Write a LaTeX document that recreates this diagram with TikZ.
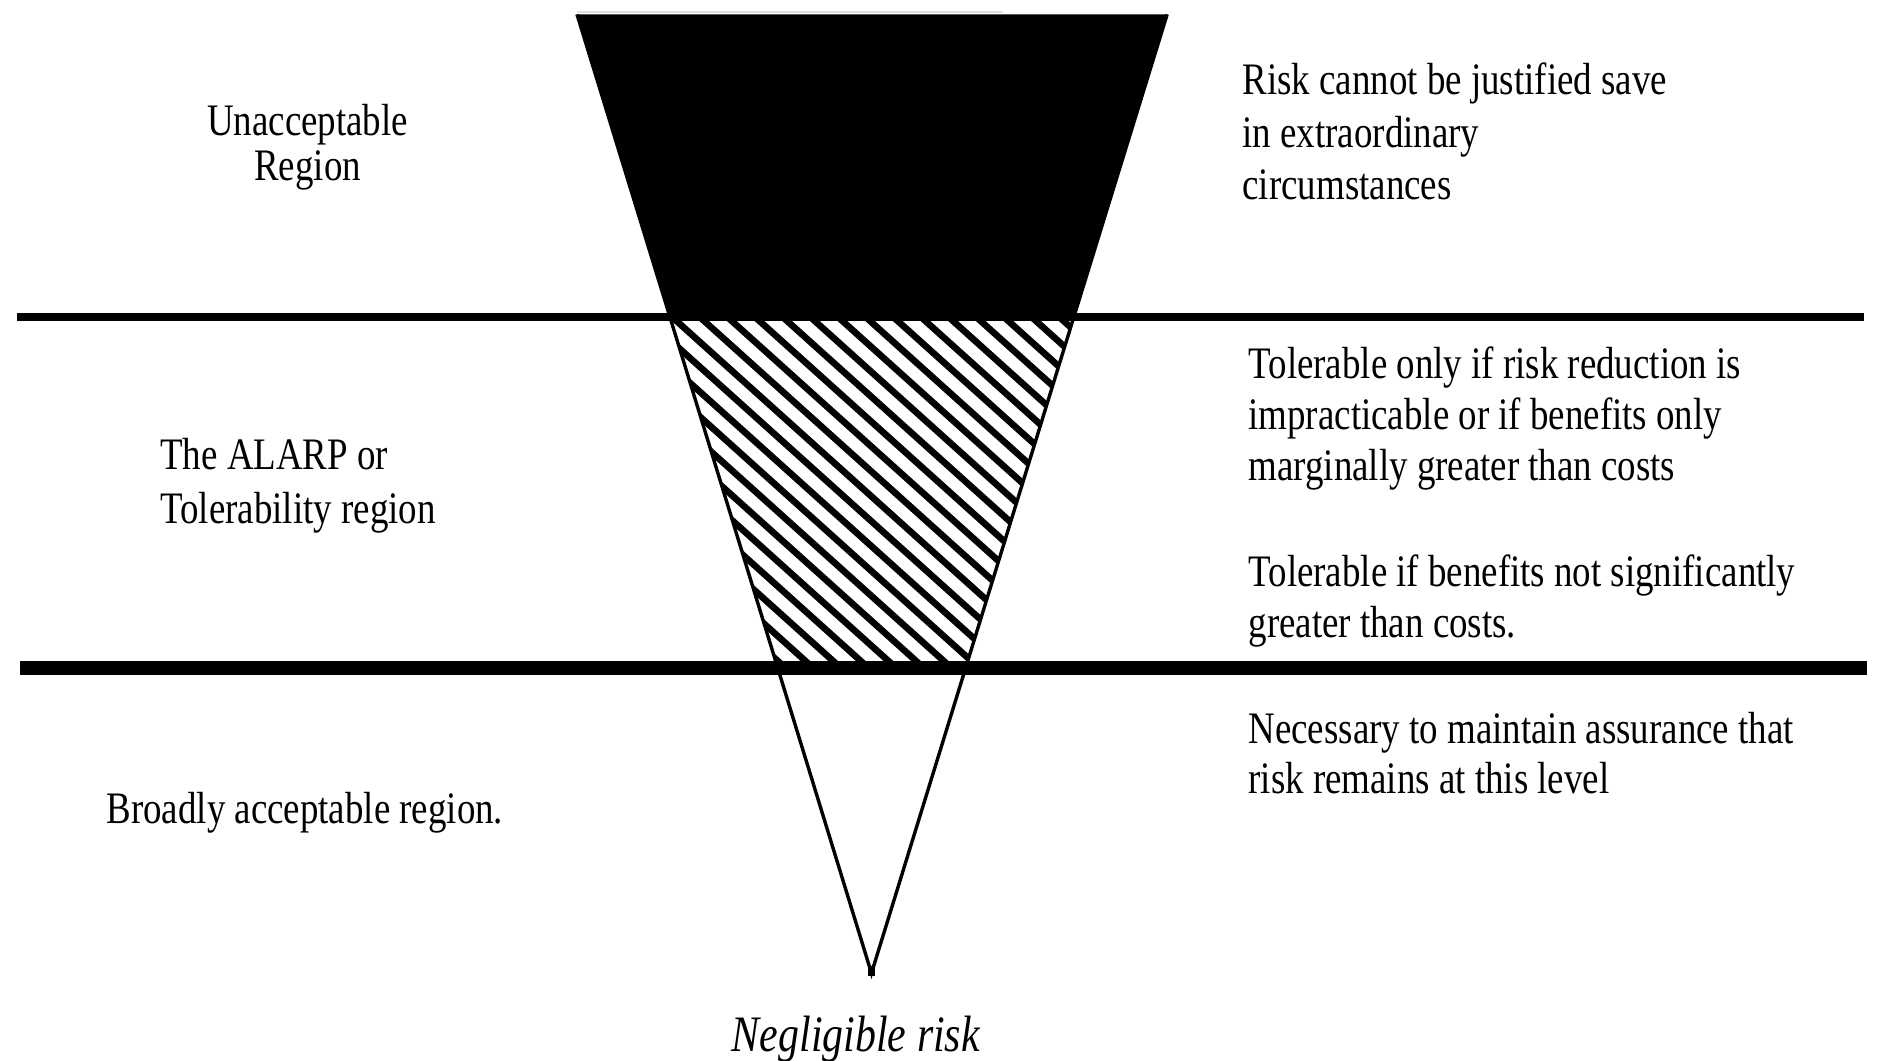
\documentclass[tikz,border=0pt]{standalone}
\usepackage{fontspec}
\setmainfont{Liberation Serif}
\usepackage{graphicx}
\newcommand{\blk}[3]{\scalebox{1}[1.22]{\fontsize{18.5}{#2}\selectfont\begin{tabular}[t]{@{}#1@{}}#3\end{tabular}}}
\begin{document}
\begin{tikzpicture}[x=0.6pt,y=-0.6pt,
  lbl/.style={inner sep=0pt,outer sep=0pt,anchor=base west},
  lblc/.style={inner sep=0pt,outer sep=0pt,anchor=base},
  band/.style={line width=#1,line cap=butt},
  edge/.style={line width=1.7pt,line join=miter},
  hatchline/.style={line width=3.3pt}]
\useasboundingbox (0,0) rectangle (1568,886);
% key points of the funnel
\coordinate (tl) at (482,12);
\coordinate (tr) at (975,12);
\coordinate (apex) at (728,813);
\coordinate (b1l) at (560,265);
\coordinate (b1r) at (897,265);
\coordinate (b2l) at (649,558);
\coordinate (b2r) at (806,558);
% faint top line
\draw[gray!25,line width=1pt] (482,10) -- (838,10);
% black unacceptable part
\fill[black] (tl) -- (tr) -- (b1r) -- (b1l) -- cycle;
% hatched tolerable part
\begin{scope}
  \clip (b1l) -- (b1r) -- (b2r) -- (b2l) -- cycle;
  \foreach \k in {-30,...,30} {
    \draw[hatchline] ({565+\k*23.1-400},{268-360}) -- ({565+\k*23.1+400},{268+360});
  }
\end{scope}
% funnel outline
\draw[edge] (tl) -- (apex) -- (tr);
\fill (apex) ++(-3,-6) rectangle ++(6,8);
% horizontal bands
\draw[band=4.2pt] (14,265) -- (1557,265);
\draw[band=7.2pt] (17,558) -- (1560,558);
% texts
\node[lblc] (unacc) at (257,113) {\blk{c}{18.7pt}{Unacceptable\\Region}};
\node[lbl] (riskjust) at (1038,79) {\blk{l}{21.6pt}{Risk cannot be justified save\\in extraordinary\\circumstances}};
\node[lbl] (alarp) at (134,392) {\blk{l}{22.1pt}{The ALARP or\\Tolerability region}};
\node[lbl] (tolonly) at (1043,316) {\blk{l}{21.1pt}{Tolerable only if risk reduction is\\impracticable or if benefits only\\marginally greater than costs}};
\node[lbl] (tolif) at (1043,490) {\blk{l}{21.1pt}{Tolerable if benefits not significantly\\greater than costs.}};
\node[lbl] (necess) at (1043,621) {\blk{l}{20.7pt}{Necessary to maintain assurance that\\risk remains at this level}};
\node[lbl] (broad) at (89,688) {\blk{l}{21pt}{Broadly acceptable region.}};
\node[lblc] (neglig) at (715,878) {\scalebox{1}[1.22]{\fontsize{21}{25}\selectfont\itshape Negligible risk}};
\end{tikzpicture}
\end{document}
